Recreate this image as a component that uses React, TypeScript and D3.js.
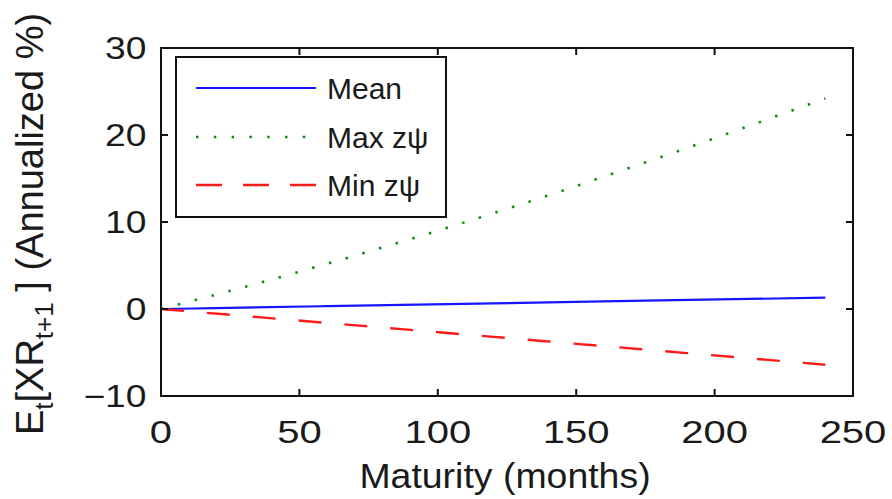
import React from "react";
import * as d3 from "d3";

const maturities = [0, 12, 24, 60, 120, 180, 240];
const meanValues = [0, 0.06, 0.13, 0.33, 0.65, 0.98, 1.3];
const maxValues = [0, 1.0, 2.0, 5.2, 11.0, 17.4, 24.2];
const minValues = [0, -0.32, -0.64, -1.6, -3.2, -4.8, -6.4];
const xTicks = [0, 50, 100, 150, 200, 250];
const yTicks = [-10, 0, 10, 20, 30];
const legendLabels = ["Mean", "Max z\u03C8", "Min z\u03C8"];

const W = 892;
const H = 499;
const FONT = "'Liberation Sans', Arial, Helvetica, sans-serif";

export default function App() {
  const x = d3.scaleLinear().domain([0, 250]).range([161, 853]);
  const y = d3.scaleLinear().domain([-10, 30]).range([396, 48]);
  const line = (vals: number[]) =>
    d3
      .line<number>()
      .x((_, i) => x(maturities[i]))
      .y((v) => y(v))
      .curve(d3.curveMonotoneX)(vals) as string;

  const [x0, x1] = x.range();
  const [yb, yt] = y.range();
  const tl = 7;

  const series = [
    { vals: meanValues, color: "#1515ff", dash: "none", width: 2.2 },
    { vals: maxValues, color: "#118a11", dash: "2.5 14.9", width: 2.6 },
    { vals: minValues, color: "#ff1a1a", dash: "23 23", width: 2.4 },
  ];
  const legendDash = ["none", "2.5 15.3", "26 21"];
  const legendY = [88, 137, 185];

  return (
    <svg
      width={W}
      height={H}
      style={{ position: "absolute", left: 0, top: 0, background: "#fff" }}
      fontFamily={FONT}
    >
      <rect x={0} y={0} width={W} height={H} fill="#fff" />
      {series.map((s, i) => (
        <path
          key={i}
          d={line(s.vals)}
          fill="none"
          stroke={s.color}
          strokeWidth={s.width}
          strokeDasharray={s.dash}
        />
      ))}
      {/* axes box */}
      <rect x={x0} y={yt} width={x1 - x0} height={yb - yt} fill="none" stroke="#111" strokeWidth={2} />
      {xTicks.map((t) => (
        <g key={"xt" + t}>
          <line x1={x(t)} x2={x(t)} y1={yb} y2={yb - tl} stroke="#111" strokeWidth={2} />
          <line x1={x(t)} x2={x(t)} y1={yt} y2={yt + tl} stroke="#111" strokeWidth={2} />
          <text
            transform={`translate(${x(t)},443) scale(1.25,1)`}
            textAnchor="middle"
            fontSize={32}
            fill="#1a1a1a"
          >
            {t}
          </text>
        </g>
      ))}
      {yTicks.map((t) => (
        <g key={"yt" + t}>
          <line x1={x0} x2={x0 + tl} y1={y(t)} y2={y(t)} stroke="#111" strokeWidth={2} />
          <line x1={x1} x2={x1 - tl} y1={y(t)} y2={y(t)} stroke="#111" strokeWidth={2} />
          <text
            transform={`translate(146.5,${y(t) + 11}) scale(1.2,1)`}
            textAnchor="end"
            fontSize={31}
            fill="#1a1a1a"
          >
            {t < 0 ? "\u2212" + Math.abs(t) : t}
          </text>
        </g>
      ))}
      {/* x label */}
      <text transform={`translate(505,488) scale(1.07,1)`} textAnchor="middle" fontSize={35} fill="#1a1a1a">
        Maturity (months)
      </text>
      {/* y label */}
      <text transform={`translate(43,224) rotate(-90)`} textAnchor="middle" fontSize={38} fill="#1a1a1a">
        E<tspan fontSize={26} dy={10}>t</tspan>
        <tspan dy={-10}>[XR</tspan>
        <tspan fontSize={26} dy={10}>t+1</tspan>
        <tspan dy={-10}> ] (Annualized %)</tspan>
      </text>
      {/* legend */}
      <rect x={176} y={57} width={270} height={160} fill="#fff" stroke="#111" strokeWidth={2} />
      {series.map((s, i) => (
        <g key={"lg" + i}>
          <line
            x1={196}
            x2={316}
            y1={legendY[i]}
            y2={legendY[i]}
            stroke={s.color}
            strokeWidth={s.width}
            strokeDasharray={legendDash[i]}
          />
          <text x={327} y={legendY[i] + 11} fontSize={30} fill="#1a1a1a">
            {legendLabels[i]}
          </text>
        </g>
      ))}
    </svg>
  );
}
